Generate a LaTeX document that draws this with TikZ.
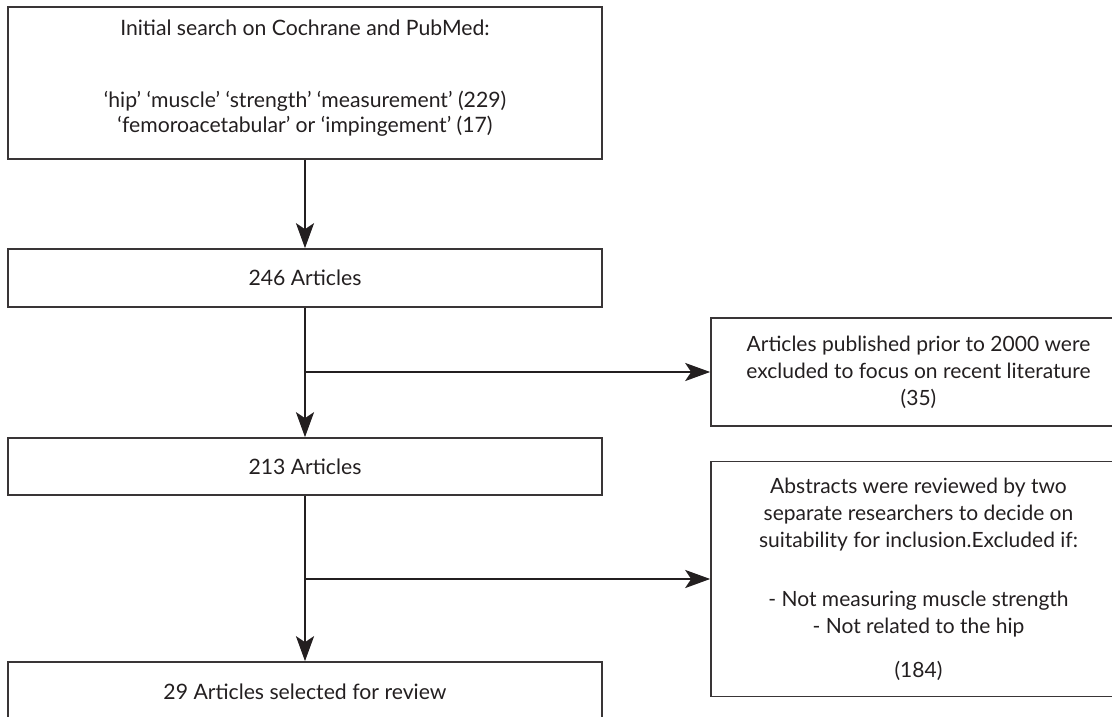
\documentclass[tikz,border=0pt]{standalone}
\usepackage{fontspec}
\setmainfont{Lato}
\usetikzlibrary{arrows.meta}
\definecolor{ink}{HTML}{231F20}
\begin{document}
\begin{tikzpicture}[x=1pt,y=-1pt,
  box/.style={draw=ink!90, line width=1.6pt, rectangle, inner sep=0pt, align=center, text=ink},
  leftbox/.style={box, minimum width=594pt, font=\fontsize{21.2}{25}\selectfont},
  rightbox/.style={box, minimum width=415pt, font=\fontsize{21}{27}\selectfont},
  lefttext/.style={inner sep=0pt, align=center, text=ink, font=\fontsize{21.2}{25}\selectfont},
  flow/.style={line width=2.6pt, draw=ink, -{Stealth[length=25pt,width=18pt,inset=6pt]}},
]
\useasboundingbox (0,0) rectangle (1112,717);
\clip (0,0) rectangle (1112,717);

% left column
\node[leftbox, minimum height=152pt] (s) at (305,83) {};
\node[lefttext] (st) at (305,78.5) {Initial search on Cochrane and PubMed:\\[47pt]
  ‘hip’ ‘muscle’ ‘strength’ ‘measurement’ (229)\\
  ‘femoroacetabular’ or ‘impingement’ (17)};

\node[leftbox, minimum height=58pt] (a246) at (305,278) {246 Articles};
\node[leftbox, minimum height=57pt] (a213) at (305,466.5) {213 Articles};
\node[leftbox, minimum height=60pt] (a29) at (305,692) {29 Articles selected for review};

% right column (right edges run off the picture)
\node[rightbox, minimum height=108pt] (exA) at (918.5,372) {Articles published prior to 2000 were\\
  excluded to focus on recent literature\\ (35)};
\node[rightbox, minimum height=235pt] (exB) at (918.5,579) {Abstracts were reviewed by two\\
  separate researchers to decide on\\
  suitability for inclusion.Excluded if:\\[32pt]
  - Not measuring muscle strength\\
  - Not related to the hip\\[17pt]
  (184)};

% connectors
\coordinate (j1) at (305,372);
\coordinate (j2) at (305,579);
\draw[flow] (s) -- (a246);
\draw[flow] (a246) -- (a213);
\draw[flow] (j1) -- (exA);
\draw[flow] (a213) -- (a29);
\draw[flow] (j2) -- (exB);
\end{tikzpicture}
\end{document}
